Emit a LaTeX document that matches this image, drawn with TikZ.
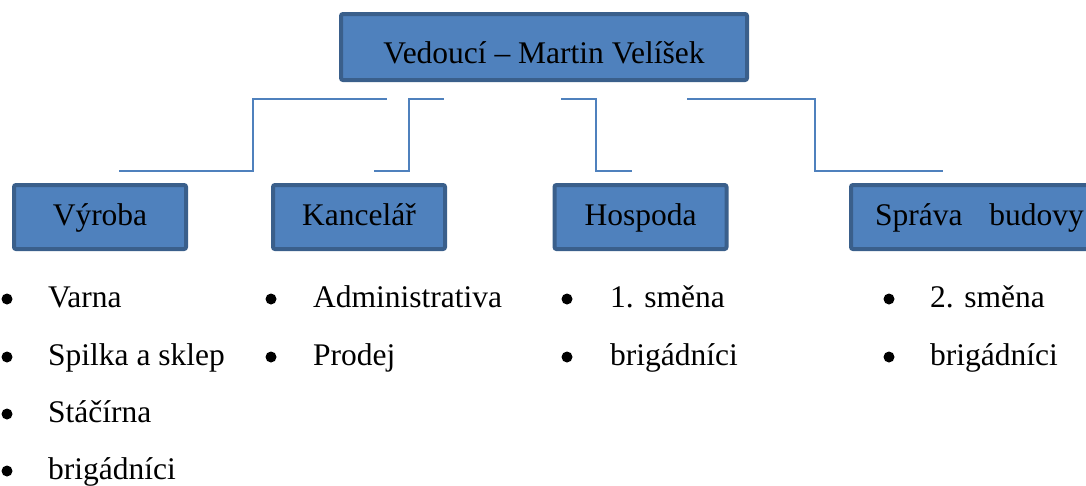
\documentclass[tikz,border=0pt]{standalone}
\usepackage{fontspec}
\setmainfont{Liberation Serif}
\usetikzlibrary{positioning}
\definecolor{boxfill}{HTML}{4F81BD}
\definecolor{boxline}{HTML}{3A5F8B}
\tikzstyle{unit}=[draw=boxline,fill=boxfill,line width=4pt,rounded corners=2pt,minimum height=64pt,minimum width=172pt,inner sep=0pt,text height=22pt,text depth=6pt,font=\fontsize{31.5}{36}\selectfont]
\tikzstyle{link}=[draw=boxfill,line width=1.8pt]
\tikzstyle{dot}=[circle,fill=black,inner sep=0pt,minimum size=11pt]
\tikzstyle{item}=[anchor=base west,inner sep=0pt,font=\fontsize{31.5}{36}\selectfont]

\begin{document}
\begin{tikzpicture}[x=1pt,y=-1pt]
\useasboundingbox (0,0) rectangle (1086,485);
\clip (0,0) rectangle (1086,485);

% boxes
\node [unit,minimum width=406pt,minimum height=66pt,text height=36pt,text depth=4pt] (boss) at (544,47) {Vedoucí – Martin Velíšek};
\node [unit] (vyroba) at (100,217) {Výroba};
\node [unit] (kancelar) at (359,217) {Kancelář};
\node [unit] (hospoda) at (640.5,217) {Hospoda};
\node [unit,inner xsep=24pt] (sprava) at (973,217) {\makebox[196pt][l]{Správa\hspace{19pt} budovy}};

% connectors
\coordinate (a1) at (119,171); \coordinate (a2) at (253,99); \coordinate (a3) at (387,99);
\coordinate (b1) at (374,171); \coordinate (b2) at (409,99); \coordinate (b3) at (444,99);
\coordinate (c1) at (561,99); \coordinate (c2) at (596,171); \coordinate (c3) at (632,171);
\coordinate (d1) at (687,99); \coordinate (d2) at (815,171); \coordinate (d3) at (943,171);
\draw [link] (a1) -| (a2) -- (a3);
\draw [link] (b1) -| (b2) -- (b3);
\draw [link] (c1) -| (c2) -- (c3);
\draw [link] (d1) -| (d2) -- (d3);

% lists
\foreach \y/\t [count=\i] in {307/Varna,365/Spilka a sklep,422/Stáčírna,479/brigádníci}{
  \node [dot] (vd\i) at (7,\y-8) {};
  \node [item] (v\i) at (48,\y) {\t};
}
\foreach \y/\t [count=\i] in {307/Administrativa,365/Prodej}{
  \node [dot] (kd\i) at (271,\y-8) {};
  \node [item] (k\i) at (313,\y) {\t};
}
\foreach \y/\t [count=\i] in {307/1. směna,365/brigádníci}{
  \node [dot] (hd\i) at (567,\y-8) {};
  \node [item] (h\i) at (610,\y) {\t};
}
\foreach \y/\t [count=\i] in {307/2. směna,365/brigádníci}{
  \node [dot] (sd\i) at (889,\y-8) {};
  \node [item] (s\i) at (930,\y) {\t};
}
\end{tikzpicture}
\end{document}
